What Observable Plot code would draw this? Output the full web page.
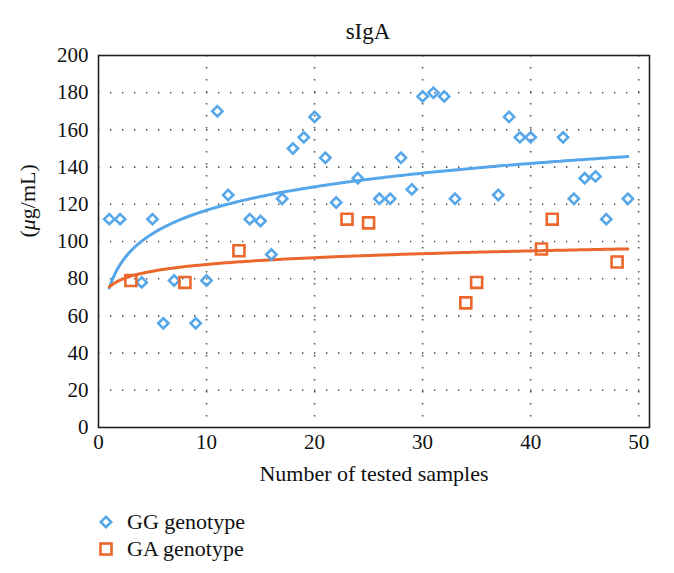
<!DOCTYPE html>
<html>
<head>
<meta charset="utf-8">
<script src="https://cdn.jsdelivr.net/npm/d3@7"></script>
<script src="https://cdn.jsdelivr.net/npm/@observablehq/plot@0.6"></script>
<style>
  html, body { margin: 0; padding: 0; background: #fff; }
  #wrap { position: relative; width: 674px; height: 573px; font-family: "Liberation Serif", "DejaVu Serif", serif; color: #111; }
  #legend { position: absolute; left: 0; top: 500px; width: 674px; height: 73px; }
  .item { position: absolute; left: 98px; height: 26px; display: flex; align-items: center; font-size: 22px; }
  .item svg { margin-right: 13px; }
</style>
</head>
<body>
<div id="wrap">
  <div id="chart"></div>
  <div id="legend">
    <div class="item" style="top:9px">
      <svg width="16" height="16" viewBox="-8 -8 16 16"><path d="M0,-5.2L5.2,0L0,5.2L-5.2,0Z" fill="none" stroke="#56a7ea" stroke-width="2.6"/></svg>GG genotype
    </div>
    <div class="item" style="top:36px">
      <svg width="16" height="16" viewBox="-8 -8 16 16"><rect x="-5.5" y="-5.5" width="11" height="11" fill="none" stroke="#ec672c" stroke-width="2.6"/></svg>GA genotype
    </div>
  </div>
</div>
<script>
// Data
const title = "sIgA";
const xLabel = "Number of tested samples";
const yLabel = "(μg/mL)";
const seriesNames = ["GG genotype", "GA genotype"];
const seriesColors = ["#56a7ea", "#ec672c"];

const ggX = [1, 2, 4, 5, 6, 7, 9, 10, 11, 12, 14, 15, 16, 17, 18, 19, 20, 21, 22, 24, 26, 27, 28, 29, 30, 31, 32, 33, 37, 38, 39, 40, 43, 44, 45, 46, 47, 49];
const ggY = [112, 112, 78, 112, 56, 79, 56, 79, 170, 125, 112, 111, 93, 123, 150, 156, 167, 145, 121, 134, 123, 123, 145, 128, 178, 180, 178, 123, 125, 167, 156, 156, 156, 123, 134, 135, 112, 123];

const gaX = [3, 8, 13, 23, 25, 34, 35, 41, 42, 48];
const gaY = [79, 78, 95, 112, 110, 67, 78, 96, 112, 89];

const xTicks = [0, 10, 20, 30, 40, 50];
const yTicks = [0, 20, 40, 60, 80, 100, 120, 140, 160, 180, 200];
const xGrid = [10, 20, 30, 40, 50];
const yGrid = [20, 40, 60, 80, 100, 120, 140, 160, 180];

const gg = ggX.map((x, i) => ({x, y: ggY[i]}));
const ga = gaX.map((x, i) => ({x, y: gaY[i]}));

// Logarithmic trend (least squares of y on ln x), as in the spreadsheet trendline
function logFit(data) {
  const lx = data.map(d => Math.log(d.x));
  const mx = d3.mean(lx), my = d3.mean(data, d => d.y);
  let sxy = 0, sxx = 0;
  data.forEach((d, i) => { sxy += (lx[i] - mx) * (d.y - my); sxx += (lx[i] - mx) ** 2; });
  const b = sxy / sxx, a = my - b * mx;
  return d3.range(1, 49.01, 0.25).map(x => ({x, y: a + b * Math.log(x)}));
}
const ggTrend = logFit(gg);
const gaTrend = logFit(ga);

const plot = Plot.plot({
  width: 674,
  height: 500,
  marginTop: 55,
  marginLeft: 98,
  marginRight: 25,
  marginBottom: 73,
  style: {fontFamily: "Liberation Serif", fontSize: "21px", color: "#111", background: "#fff"},
  x: {domain: [0, 51], ticks: xTicks, tickSize: 0, tickPadding: 7, label: null},
  y: {domain: [0, 200], ticks: yTicks, tickSize: 0, tickPadding: 10, label: null},
  marks: [
    Plot.ruleY(yGrid, {stroke: "#555", strokeWidth: 1.6, strokeDasharray: "1.4,10.6"}),
    Plot.ruleX(xGrid, {stroke: "#555", strokeWidth: 1.6, strokeDasharray: "1.4,10.6"}),
    Plot.frame({stroke: "#222", strokeWidth: 1.6}),
    Plot.line(ggTrend, {x: "x", y: "y", stroke: seriesColors[0], strokeWidth: 3}),
    Plot.line(gaTrend, {x: "x", y: "y", stroke: seriesColors[1], strokeWidth: 3}),
    Plot.dot(gg, {x: "x", y: "y", symbol: "diamond2", r: 4.6, stroke: seriesColors[0], strokeWidth: 2.6, fill: "none"}),
    Plot.dot(ga, {x: "x", y: "y", symbol: "square", r: 6.2, stroke: seriesColors[1], strokeWidth: 2.6, fill: "none"}),
    Plot.text([title], {frameAnchor: "top", dy: -33, dx: -6, fontSize: 23, fill: "#111"}),
    Plot.text([xLabel], {frameAnchor: "bottom", dy: 53, fontSize: 22, fill: "#111"}),
    Plot.text([yLabel], {frameAnchor: "left", dx: -71, dy: -4, rotate: -90, fontSize: 22, fill: "#111"})
  ]
});
document.getElementById("chart").appendChild(plot);

// italic mu in the y label
plot.querySelectorAll("text").forEach(t => {
  if (t.textContent === yLabel) {
    t.textContent = "";
    const ns = "http://www.w3.org/2000/svg";
    const parts = [["(", false], ["μ", true], ["g/mL)", false]];
    for (const [s, it] of parts) {
      const ts = document.createElementNS(ns, "tspan");
      ts.textContent = s;
      if (it) ts.setAttribute("font-style", "italic");
      t.appendChild(ts);
    }
  }
});
</script>
</body>
</html>
